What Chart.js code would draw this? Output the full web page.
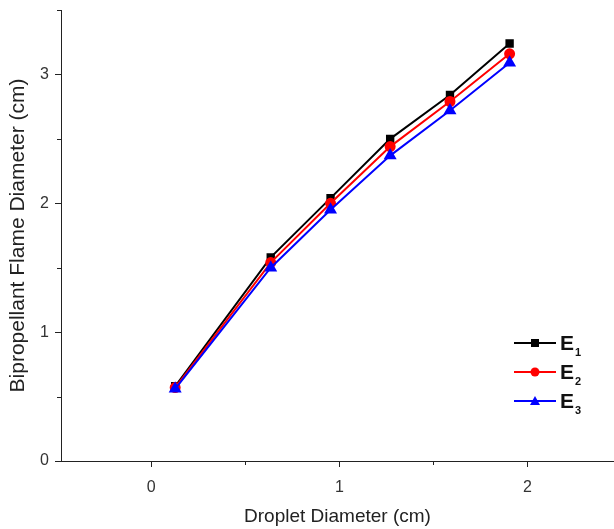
<!DOCTYPE html>
<html>
<head>
<meta charset="utf-8">
<script src="https://cdn.jsdelivr.net/npm/chart.js@4"></script>
<style>
  html, body { margin: 0; padding: 0; background: #fff; }
  #wrap { width: 614px; height: 529px; }
</style>
</head>
<body>
<div id="wrap"><canvas id="flameChart" width="614" height="529"></canvas></div>
<script>
// droplet diameter (cm)
const dropletDiameter = [0.127, 0.635, 0.953, 1.27, 1.588, 1.905];
// bipropellant flame diameter (cm) for each case
const flameE1 = [0.58, 1.58, 2.04, 2.50, 2.84, 3.24];
const flameE2 = [0.57, 1.54, 2.00, 2.44, 2.79, 3.16];
const flameE3 = [0.56, 1.50, 1.95, 2.37, 2.72, 3.09];
const seriesNames = ['E', 'E', 'E'];
const seriesSubs = ['1', '2', '3'];
// tick labels
const xTicks = [0, 1, 2];
const yTicks = [0, 1, 2, 3];
const xMinorTicks = [0.5, 1.5];
const yMinorTicks = [0.5, 1.5, 2.5, 3.5];

const FONT = '"Liberation Sans", Arial, sans-serif';

function toPoints(ys) {
  return dropletDiameter.map((x, i) => ({ x: x, y: ys[i] }));
}

// minor ticks, drawn outside the axes
const minorTicks = {
  id: 'minorTicks',
  afterDraw(chart) {
    const ctx = chart.ctx;
    const xs = chart.scales.x, ys = chart.scales.y;
    const area = chart.chartArea;
    ctx.save();
    ctx.strokeStyle = '#222';
    ctx.lineWidth = 1;
    ctx.beginPath();
    xMinorTicks.forEach(v => {
      const px = Math.round(xs.getPixelForValue(v)) + 0.5;
      ctx.moveTo(px, area.bottom);
      ctx.lineTo(px, area.bottom + 4);
    });
    yMinorTicks.forEach(v => {
      const py = Math.round(ys.getPixelForValue(v)) + 0.5;
      ctx.moveTo(area.left - 4, py);
      ctx.lineTo(area.left, py);
    });
    ctx.stroke();
    ctx.restore();
  }
};

// legend with subscripts, inside the plot at lower right
const subLegend = {
  id: 'subLegend',
  afterDraw(chart) {
    const ctx = chart.ctx;
    ctx.save();
    chart.data.datasets.forEach((ds, i) => {
      const y = 343 + i * 29;
      const x0 = 514, x1 = 556, mx = 535;
      ctx.strokeStyle = ds.borderColor;
      ctx.lineWidth = 2;
      ctx.beginPath();
      ctx.moveTo(x0, y);
      ctx.lineTo(x1, y);
      ctx.stroke();
      ctx.fillStyle = ds.backgroundColor;
      ctx.beginPath();
      if (ds.pointStyle === 'rect') {
        ctx.rect(mx - 4, y - 4, 8, 8);
      } else if (ds.pointStyle === 'circle') {
        ctx.arc(mx, y, 4.5, 0, Math.PI * 2);
      } else {
        ctx.moveTo(mx, y - 5);
        ctx.lineTo(mx + 5, y + 4);
        ctx.lineTo(mx - 5, y + 4);
        ctx.closePath();
      }
      ctx.fill();
      ctx.fillStyle = '#111';
      ctx.textBaseline = 'middle';
      ctx.font = 'bold 21px ' + FONT;
      ctx.fillText(seriesNames[i], 560, y + 1);
      const w = ctx.measureText(seriesNames[i]).width;
      ctx.font = 'bold 11px ' + FONT;
      ctx.fillText(seriesSubs[i], 560 + w + 1, y + 10);
    });
    ctx.restore();
  }
};

const ctx = document.getElementById('flameChart').getContext('2d');
const flameChart = new Chart(ctx, {
  type: 'line',
  data: {
    datasets: [
      {
        label: 'E1',
        data: toPoints(flameE1),
        borderColor: '#000000',
        backgroundColor: '#000000',
        pointStyle: 'rect',
        pointRadius: 4.5,
        borderWidth: 2,
        order: 3
      },
      {
        label: 'E2',
        data: toPoints(flameE2),
        borderColor: '#ff0000',
        backgroundColor: '#ff0000',
        pointStyle: 'circle',
        pointRadius: 4.5,
        borderWidth: 2,
        order: 2
      },
      {
        label: 'E3',
        data: toPoints(flameE3),
        borderColor: '#0000ff',
        backgroundColor: '#0000ff',
        pointStyle: 'triangle',
        pointRadius: 5.5,
        borderWidth: 2,
        order: 1
      }
    ]
  },
  options: {
    responsive: false,
    animation: false,
    layout: { autoPadding: false, padding: { top: 10, right: 0, left: 0, bottom: 0 } },
    plugins: {
      legend: { display: false },
      tooltip: { enabled: false }
    },
    elements: {
      line: { tension: 0 },
      point: { borderWidth: 0 }
    },
    scales: {
      x: {
        type: 'linear',
        min: -0.48,
        max: 2.46,
        afterFit: s => { s.height = 68; s.paddingRight = 0; s.paddingLeft = 0; },
        afterBuildTicks: s => { s.ticks = xTicks.map(v => ({ value: v })); },
        border: { display: true, color: '#222', width: 1 },
        grid: { display: true, drawOnChartArea: false, drawTicks: true, tickLength: 6, color: '#222' },
        ticks: { color: '#333', font: { family: FONT, size: 16 }, padding: 11, maxRotation: 0 },
        title: {
          display: true,
          text: 'Droplet Diameter (cm)',
          color: '#222',
          font: { family: FONT, size: 19 },
          padding: { top: 0, bottom: 1 }
        }
      },
      y: {
        type: 'linear',
        min: 0,
        max: 3.5,
        afterFit: s => { s.width = 61; s.paddingTop = 0; s.paddingBottom = 0; },
        afterBuildTicks: s => { s.ticks = yTicks.map(v => ({ value: v })); },
        border: { display: true, color: '#222', width: 1 },
        grid: { display: true, drawOnChartArea: false, drawTicks: true, tickLength: 6, color: '#222' },
        ticks: { color: '#333', font: { family: FONT, size: 16 }, padding: 6 },
        title: {
          display: true,
          text: 'Bipropellant Flame Diameter (cm)',
          color: '#222',
          font: { family: FONT, size: 21 },
          padding: { top: 6, bottom: 8 }
        }
      }
    }
  },
  plugins: [minorTicks, subLegend]
});
</script>
</body>
</html>
